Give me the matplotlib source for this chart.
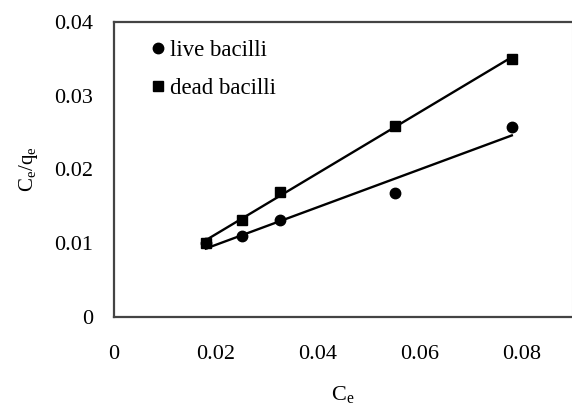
import numpy as np
import matplotlib.pyplot as plt

plt.rcParams['font.family'] = ['Liberation Serif', 'DejaVu Serif']

# data
ce = [0.018, 0.025, 0.0325, 0.055, 0.078]
live = [0.010, 0.011, 0.0131, 0.0168, 0.0258]
dead = [0.010, 0.0132, 0.0170, 0.0259, 0.0350]

fig = plt.figure(figsize=(5.72, 4.08), dpi=100)
ax = fig.add_axes([114/572, 1 - 317/408, 458/572, 295/408])

ax.plot(ce, live, 'o', color='black', ms=7.5, label='live bacilli')
ax.plot(ce, dead, 's', color='black', ms=6.5, label='dead bacilli')

# linear trendlines
xs = np.array([ce[0], ce[-1]])
for y in (live, dead):
    k, b = np.polyfit(ce, y, 1)
    ax.plot(xs, k * xs + b, color='black', lw=1.7)

ax.set_xlim(0, 0.0898)
ax.set_ylim(0, 0.04)
ax.set_xticks([0, 0.02, 0.04, 0.06, 0.08])
ax.set_xticklabels(['0', '0.02', '0.04', '0.06', '0.08'])
ax.set_yticks([0, 0.01, 0.02, 0.03, 0.04])
ax.set_yticklabels(['0', '0.01', '0.02', '0.03', '0.04'])
ax.tick_params(length=0, labelsize=16)
ax.tick_params(axis='x', pad=20)
ax.tick_params(axis='y', pad=15)
for s in ('left', 'bottom', 'top'):
    ax.spines[s].set_color('#444444')
    ax.spines[s].set_linewidth(1.6)
ax.spines['right'].set_color('#cccccc')

ax.set_xlabel('C$_\\mathregular{e}$', fontsize=16, labelpad=15)
ax.set_ylabel('C$_\\mathregular{e}$/q$_\\mathregular{e}$', fontsize=15, labelpad=10)

ax.legend(loc='upper left', frameon=False, fontsize=16.5, handletextpad=0.05,
          handlelength=1.0, borderaxespad=0.4, labelspacing=0.72,
          bbox_to_anchor=(0.03, 1.0))

fig.savefig('out.png')
